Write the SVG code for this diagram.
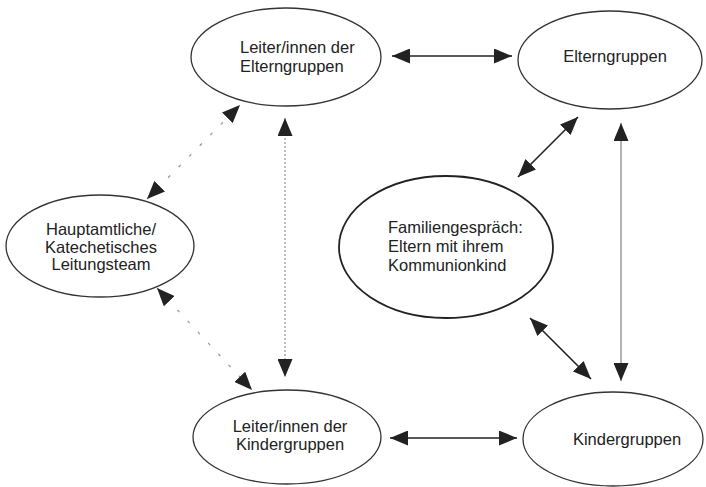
<svg xmlns="http://www.w3.org/2000/svg" width="706" height="487" viewBox="0 0 706 487">
<style>
.node ellipse{fill:#fff;stroke:#333;stroke-width:1.3}
.node text{font-family:"Liberation Sans",Arial,sans-serif;font-size:16.5px;fill:#222}
.c{text-anchor:middle}
.solid{stroke:#222;stroke-width:1.6;fill:none}
.thin{stroke:#777;stroke-width:1.1;fill:none}
.dot{stroke:#888;stroke-width:1.1;fill:none;stroke-dasharray:2 2}
.sparse{stroke:#999;stroke-width:1.3;fill:none;stroke-dasharray:3 12}
</style>
<defs>
<marker id="ah" viewBox="0 0 18 15" refX="18" refY="7.5" markerWidth="18" markerHeight="15" markerUnits="userSpaceOnUse" orient="auto-start-reverse">
<path d="M0,0 L18,7.5 L0,15 z" fill="#222"/>
</marker>
</defs>
<rect width="706" height="487" fill="#fff"/>
<g id="connectors">
<line class="solid" x1="392" y1="56" x2="512" y2="56" marker-start="url(#ah)" marker-end="url(#ah)"/>
<line class="solid" x1="390" y1="438" x2="517" y2="438" marker-start="url(#ah)" marker-end="url(#ah)"/>
<line class="dot" x1="285" y1="118" x2="285" y2="377" marker-start="url(#ah)" marker-end="url(#ah)"/>
<line class="thin" x1="621" y1="123" x2="621" y2="381" marker-start="url(#ah)" marker-end="url(#ah)"/>
<line class="sparse" x1="147" y1="199" x2="240" y2="105" marker-start="url(#ah)" marker-end="url(#ah)"/>
<line class="sparse" x1="157" y1="288" x2="252" y2="390" marker-start="url(#ah)" marker-end="url(#ah)"/>
<line class="solid" x1="518" y1="177" x2="578" y2="117" marker-start="url(#ah)" marker-end="url(#ah)"/>
<line class="solid" x1="530" y1="318" x2="591" y2="379" marker-start="url(#ah)" marker-end="url(#ah)"/>
</g>
<g id="leiter-eltern" class="node">
<ellipse cx="286" cy="57" rx="95" ry="49"/>
<text x="240" y="53">Leiter/innen der</text>
<text x="240" y="72">Elterngruppen</text>
</g>
<g id="elterngruppen" class="node">
<ellipse cx="610" cy="60" rx="92" ry="49"/>
<text class="c" x="615" y="62">Elterngruppen</text>
</g>
<g id="hauptamtliche" class="node">
<ellipse cx="100" cy="246" rx="94" ry="51"/>
<text class="c" x="101" y="235">Hauptamtliche/</text>
<text class="c" x="101" y="253">Katechetisches</text>
<text class="c" x="101" y="270">Leitungsteam</text>
</g>
<g id="familiengespraech" class="node">
<ellipse cx="446" cy="247" rx="107" ry="71" style="stroke-width:1.8;stroke:#222"/>
<text x="388" y="233">Familiengespräch:</text>
<text x="388" y="252">Eltern mit ihrem</text>
<text x="388" y="271">Kommunionkind</text>
</g>
<g id="leiter-kinder" class="node">
<ellipse cx="287" cy="437" rx="94" ry="47"/>
<text class="c" x="290" y="432">Leiter/innen der</text>
<text class="c" x="290" y="450">Kindergruppen</text>
</g>
<g id="kindergruppen" class="node">
<ellipse cx="613" cy="439" rx="90" ry="47"/>
<text class="c" x="627" y="445">Kindergruppen</text>
</g>
</svg>
